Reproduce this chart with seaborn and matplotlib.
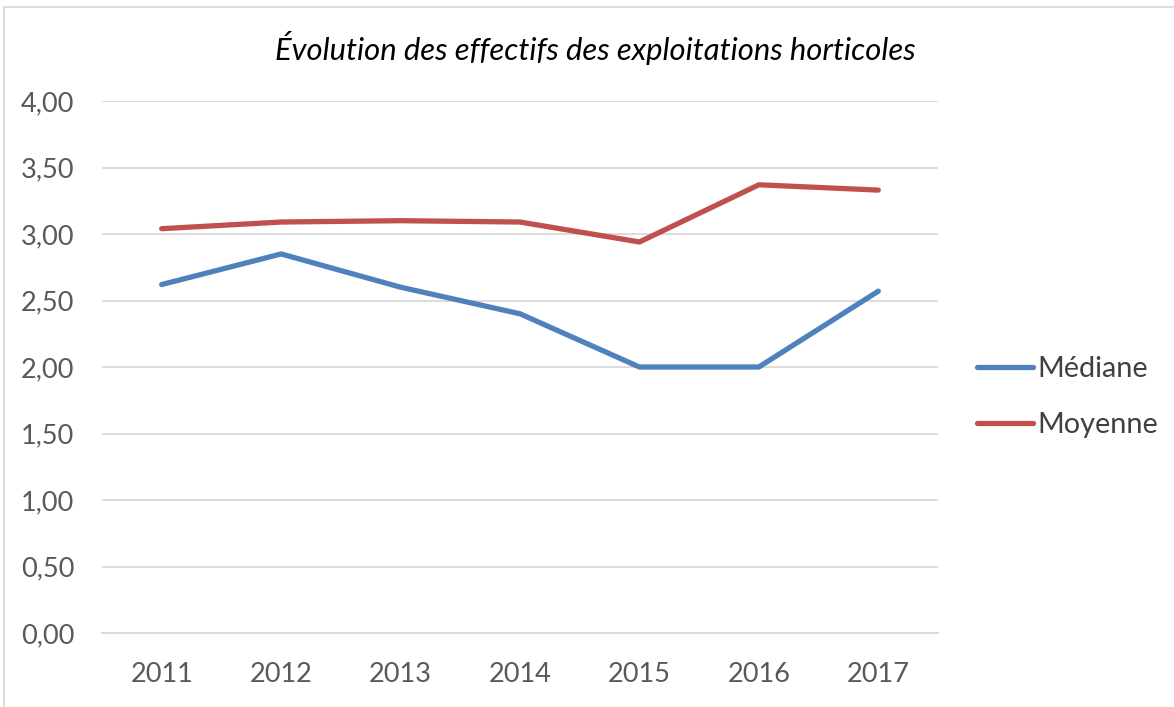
import matplotlib
matplotlib.use("Agg")
import matplotlib.pyplot as plt
from matplotlib.patches import Rectangle
import matplotlib.ticker as mticker
import pandas as pd
import seaborn as sns

# ── data ────────────────────────────────────────────────
YEARS    = ["2011", "2012", "2013", "2014", "2015", "2016", "2017"]
MEDIANE  = [2.62, 2.85, 2.60, 2.40, 2.00, 2.00, 2.57]
MOYENNE  = [3.04, 3.09, 3.10, 3.09, 2.94, 3.37, 3.33]
SERIES   = ["Médiane", "Moyenne"]
COLORS   = ["#4F81BD", "#C0504D"]
TITLE    = "Évolution des effectifs des exploitations horticoles"

sns.set_style("white")
plt.rcParams["font.family"] = ["Lato", "DejaVu Sans"]

df = pd.DataFrame({
    "year": YEARS * 2,
    "value": MEDIANE + MOYENNE,
    "serie": [SERIES[0]] * len(YEARS) + [SERIES[1]] * len(YEARS),
})
df["pos"] = df["year"].map({y: i for i, y in enumerate(YEARS)})

fig = plt.figure(figsize=(11.74, 7.07), dpi=100)
ax = fig.add_axes([102 / 1174, 1 - 633 / 707, (938 - 102) / 1174, (633 - 101) / 707])

sns.lineplot(data=df, x="pos", y="value", hue="serie", hue_order=SERIES,
             palette=COLORS, linewidth=3.8, ax=ax, legend=True,
             solid_capstyle="round", solid_joinstyle="round")

ax.set_xlim(-0.5, len(YEARS) - 0.5)
ax.set_ylim(0, 4)
ax.set_xticks(range(len(YEARS)))
ax.set_xticklabels(YEARS)
ax.yaxis.set_major_locator(mticker.MultipleLocator(0.5))
ax.yaxis.set_major_formatter(mticker.FuncFormatter(lambda v, _: f"{v:.2f}".replace(".", ",")))
ax.set_xlabel("")
ax.set_ylabel("")

ax.grid(axis="y", color="#D9D9D9", linewidth=1.3)
ax.set_axisbelow(True)
for side in ["top", "right", "left"]:
    ax.spines[side].set_visible(False)
ax.spines["bottom"].set_color("#D9D9D9")
ax.spines["bottom"].set_linewidth(1.3)
ax.tick_params(axis="both", length=0, labelsize=19.5, colors="#595959")
ax.tick_params(axis="y", pad=20)
ax.tick_params(axis="x", pad=21)

# legend outside on the right
handles, labels = ax.get_legend_handles_labels()
ax.legend(handles, labels, loc="center left", bbox_to_anchor=(977 / 1174, 1 - 397 / 707),
          bbox_transform=fig.transFigure, frameon=False, fontsize=20.8,
          handlelength=1.95, handletextpad=0.15, labelspacing=1.05,
          borderpad=0, borderaxespad=0, labelcolor="#404040")

fig.text(595 / 1174, 1 - 48 / 707, TITLE, ha="center", va="center",
         fontsize=22.3, style="italic", color="#000000")

# chart area border (Excel style)
fig.patches.append(Rectangle((4 / 1174, -0.1), 1.2, 1 - 7 / 707 + 0.1,
                             transform=fig.transFigure, fill=False,
                             edgecolor="#D9D9D9", linewidth=1.3))

fig.savefig("out.png", dpi=100)
